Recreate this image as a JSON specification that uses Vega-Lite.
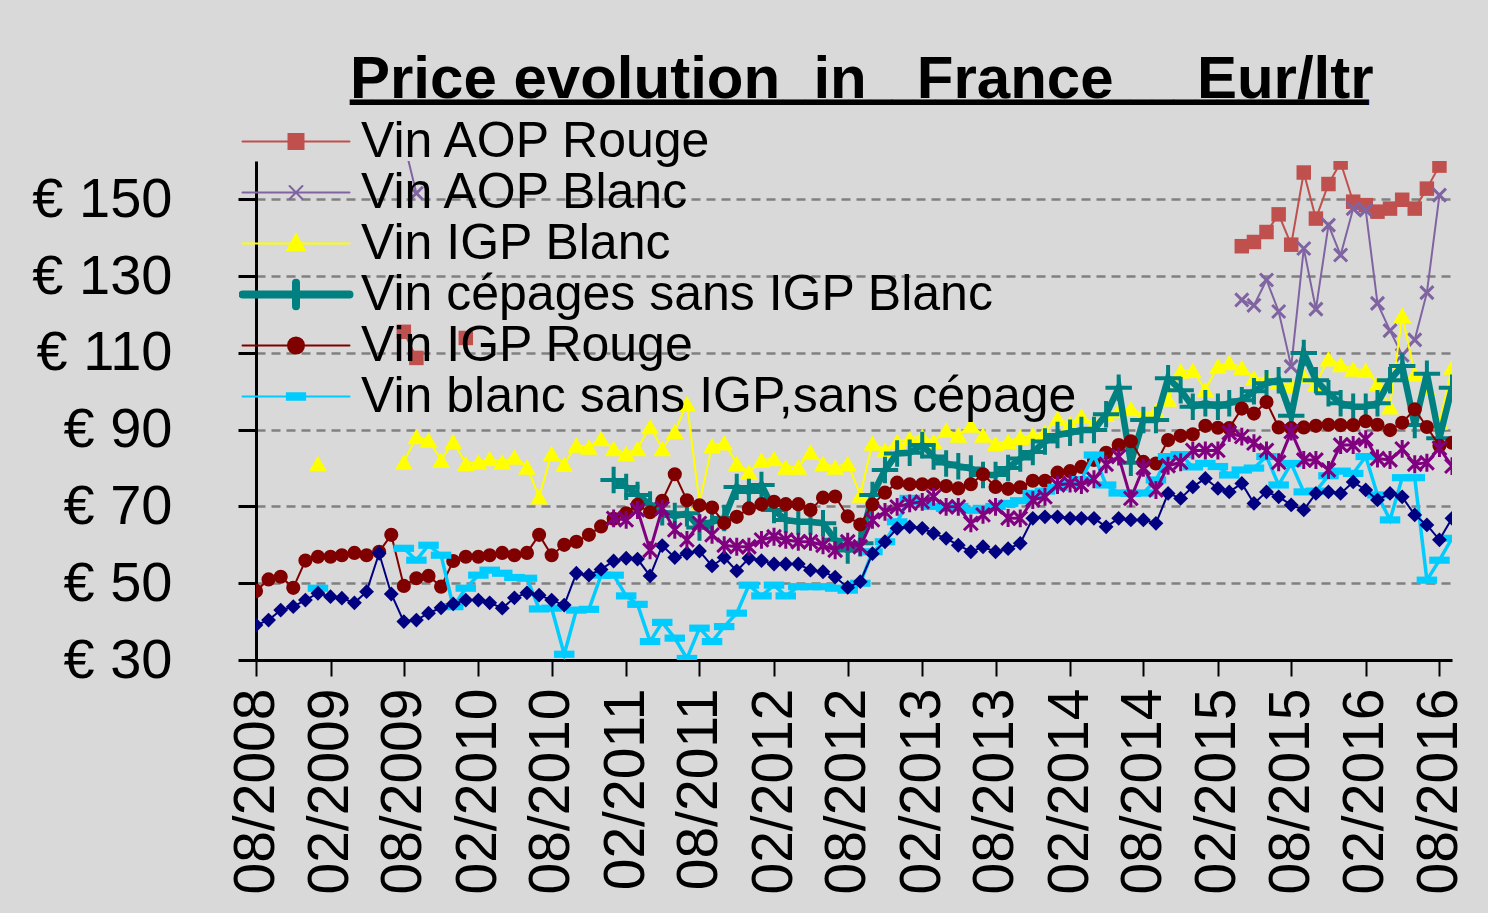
{
  "$schema": "https://vega.github.io/schema/vega-lite/v6.json",
  "width": 1196,
  "height": 499,
  "autosize": "none",
  "padding": {"left": 256, "top": 161, "right": 36, "bottom": 253},
  "background": "#d9d9d9",
  "config": {"view": {"stroke": null}, "font": "Liberation Sans"},
  "title": {
    "text": "Price evolution\u00a0\u00a0in\u00a0\u00a0\u00a0France\u00a0\u00a0\u00a0\u00a0\u00a0Eur/ltr",
    "subtitle": "▁▁▁▁▁▁▁▁▁▁▁▁▁▁▁▁▁▁▁▁▁▁▁▁▁▁▁▁▁▁▁▁▁▁▁▁▁▁▁▁▁▁▁▁▁▁▁",
    "anchor": "start",
    "frame": "group",
    "dx": 94,
    "offset": 5,
    "font": "Liberation Sans",
    "fontSize": 60,
    "fontWeight": "bold",
    "color": "black",
    "subtitleFont": "DejaVu Sans Mono",
    "subtitleFontSize": 36,
    "subtitleFontWeight": "normal",
    "subtitleColor": "black",
    "subtitlePadding": -43
  },
  "data": {
    "format": {"parse": {"d": "utc:'%Y-%m'"}},
    "values": [
      {"s":"A","d":"2009-08","v":115.5},{"s":"A","d":"2009-09","v":108.7},{"s":"A","d":"2009-10","v":null},{"s":"A","d":"2010-01","v":113.9},{"s":"A","d":"2010-02","v":null},
      {"s":"A","d":"2015-04","v":137.8},{"s":"A","d":"2015-05","v":138.9},{"s":"A","d":"2015-06","v":141.5},{"s":"A","d":"2015-07","v":146.1},{"s":"A","d":"2015-08","v":138.2},{"s":"A","d":"2015-09","v":157},{"s":"A","d":"2015-10","v":145},{"s":"A","d":"2015-11","v":154},{"s":"A","d":"2015-12","v":159.6},
      {"s":"A","d":"2016-01","v":149.4},{"s":"A","d":"2016-02","v":148.5},{"s":"A","d":"2016-03","v":146.8},{"s":"A","d":"2016-04","v":147.6},{"s":"A","d":"2016-05","v":149.9},{"s":"A","d":"2016-06","v":147.6},{"s":"A","d":"2016-07","v":152.8},{"s":"A","d":"2016-08","v":158.8},

      {"s":"B","d":"2009-08","v":165},{"s":"B","d":"2009-09","v":151.6},{"s":"B","d":"2009-10","v":null},
      {"s":"B","d":"2015-04","v":123.8},{"s":"B","d":"2015-05","v":122.4},{"s":"B","d":"2015-06","v":129},{"s":"B","d":"2015-07","v":120.8},{"s":"B","d":"2015-08","v":106.5},{"s":"B","d":"2015-09","v":137.2},{"s":"B","d":"2015-10","v":121.4},{"s":"B","d":"2015-11","v":143.3},{"s":"B","d":"2015-12","v":135.5},
      {"s":"B","d":"2016-01","v":147.6},{"s":"B","d":"2016-02","v":147.2},{"s":"B","d":"2016-03","v":122.9},{"s":"B","d":"2016-04","v":115.8},{"s":"B","d":"2016-05","v":109.4},{"s":"B","d":"2016-06","v":113.4},{"s":"B","d":"2016-07","v":125.7},{"s":"B","d":"2016-08","v":151.1},

      {"s":"C","d":"2009-01","v":81.2},{"s":"C","d":"2009-02","v":null},
      {"s":"C","d":"2009-08","v":81.6},{"s":"C","d":"2009-09","v":88.2},{"s":"C","d":"2009-10","v":87.3},{"s":"C","d":"2009-11","v":82.1},{"s":"C","d":"2009-12","v":86.9},
      {"s":"C","d":"2010-01","v":81.2},{"s":"C","d":"2010-02","v":81.6},{"s":"C","d":"2010-03","v":82.5},{"s":"C","d":"2010-04","v":81.6},{"s":"C","d":"2010-05","v":82.9},{"s":"C","d":"2010-06","v":80.3},{"s":"C","d":"2010-07","v":72.5},{"s":"C","d":"2010-08","v":83.8},{"s":"C","d":"2010-09","v":81},{"s":"C","d":"2010-10","v":86},{"s":"C","d":"2010-11","v":85.5},{"s":"C","d":"2010-12","v":87.7},
      {"s":"C","d":"2011-01","v":85.1},{"s":"C","d":"2011-02","v":83.8},{"s":"C","d":"2011-03","v":85.1},{"s":"C","d":"2011-04","v":90.8},{"s":"C","d":"2011-05","v":85.1},{"s":"C","d":"2011-06","v":89.5},{"s":"C","d":"2011-07","v":96.8},{"s":"C","d":"2011-08","v":71},{"s":"C","d":"2011-09","v":85.8},{"s":"C","d":"2011-10","v":86.6},{"s":"C","d":"2011-11","v":81.2},{"s":"C","d":"2011-12","v":79},
      {"s":"C","d":"2012-01","v":82.1},{"s":"C","d":"2012-02","v":82.5},{"s":"C","d":"2012-03","v":80.3},{"s":"C","d":"2012-04","v":80.3},{"s":"C","d":"2012-05","v":84.2},{"s":"C","d":"2012-06","v":81.2},{"s":"C","d":"2012-07","v":80.3},{"s":"C","d":"2012-08","v":81.2},{"s":"C","d":"2012-09","v":73},{"s":"C","d":"2012-10","v":86.5},{"s":"C","d":"2012-11","v":84.7},{"s":"C","d":"2012-12","v":86.9},
      {"s":"C","d":"2013-01","v":87.7},{"s":"C","d":"2013-02","v":88.3},{"s":"C","d":"2013-03","v":86.9},{"s":"C","d":"2013-04","v":89.9},{"s":"C","d":"2013-05","v":88.6},{"s":"C","d":"2013-06","v":91.2},{"s":"C","d":"2013-07","v":88.6},{"s":"C","d":"2013-08","v":86.4},{"s":"C","d":"2013-09","v":87},{"s":"C","d":"2013-10","v":88},{"s":"C","d":"2013-11","v":88.6},{"s":"C","d":"2013-12","v":89.4},
      {"s":"C","d":"2014-01","v":93},{"s":"C","d":"2014-02","v":91.6},{"s":"C","d":"2014-03","v":93.6},{"s":"C","d":"2014-04","v":91.6},{"s":"C","d":"2014-05","v":94},{"s":"C","d":"2014-06","v":95},{"s":"C","d":"2014-07","v":95.5},{"s":"C","d":"2014-08","v":94},{"s":"C","d":"2014-09","v":95},{"s":"C","d":"2014-10","v":98},{"s":"C","d":"2014-11","v":105.3},{"s":"C","d":"2014-12","v":105.5},
      {"s":"C","d":"2015-01","v":100.4},{"s":"C","d":"2015-02","v":106.6},{"s":"C","d":"2015-03","v":107.5},{"s":"C","d":"2015-04","v":106.2},{"s":"C","d":"2015-05","v":103.5},{"s":"C","d":"2015-06","v":103.4},{"s":"C","d":"2015-07","v":102.5},{"s":"C","d":"2015-08","v":101.4},{"s":"C","d":"2015-09","v":104},{"s":"C","d":"2015-10","v":102},{"s":"C","d":"2015-11","v":108.5},{"s":"C","d":"2015-12","v":107},
      {"s":"C","d":"2016-01","v":105.8},{"s":"C","d":"2016-02","v":105.5},{"s":"C","d":"2016-03","v":102},{"s":"C","d":"2016-04","v":96},{"s":"C","d":"2016-05","v":119.8},{"s":"C","d":"2016-06","v":104.6},{"s":"C","d":"2016-07","v":101},{"s":"C","d":"2016-08","v":92},{"s":"C","d":"2016-09","v":106.3},

      {"s":"D","d":"2011-01","v":76.9},{"s":"D","d":"2011-02","v":75.1},{"s":"D","d":"2011-03","v":73},{"s":"D","d":"2011-04","v":70.5},{"s":"D","d":"2011-05","v":68.5},{"s":"D","d":"2011-06","v":67.5},{"s":"D","d":"2011-07","v":68.2},{"s":"D","d":"2011-08","v":64.5},{"s":"D","d":"2011-09","v":66},{"s":"D","d":"2011-10","v":67},{"s":"D","d":"2011-11","v":75.1},{"s":"D","d":"2011-12","v":73.8},
      {"s":"D","d":"2012-01","v":75.6},{"s":"D","d":"2012-02","v":69.1},{"s":"D","d":"2012-03","v":66.5},{"s":"D","d":"2012-04","v":66},{"s":"D","d":"2012-05","v":66},{"s":"D","d":"2012-06","v":65.6},{"s":"D","d":"2012-07","v":61.3},{"s":"D","d":"2012-08","v":58.5},{"s":"D","d":"2012-09","v":60.4},{"s":"D","d":"2012-10","v":73},{"s":"D","d":"2012-11","v":79.5},{"s":"D","d":"2012-12","v":83.8},
      {"s":"D","d":"2013-01","v":84},{"s":"D","d":"2013-02","v":86},{"s":"D","d":"2013-03","v":83},{"s":"D","d":"2013-04","v":81.2},{"s":"D","d":"2013-05","v":80.5},{"s":"D","d":"2013-06","v":79.9},{"s":"D","d":"2013-07","v":78.2},{"s":"D","d":"2013-08","v":78.2},{"s":"D","d":"2013-09","v":80},{"s":"D","d":"2013-10","v":82.5},{"s":"D","d":"2013-11","v":84.2},{"s":"D","d":"2013-12","v":86.9},
      {"s":"D","d":"2014-01","v":88.6},{"s":"D","d":"2014-02","v":89.2},{"s":"D","d":"2014-03","v":89.9},{"s":"D","d":"2014-04","v":89.9},{"s":"D","d":"2014-05","v":94},{"s":"D","d":"2014-06","v":100.9},{"s":"D","d":"2014-07","v":81.4},{"s":"D","d":"2014-08","v":92.5},{"s":"D","d":"2014-09","v":92.5},{"s":"D","d":"2014-10","v":103.4},{"s":"D","d":"2014-11","v":100.3},{"s":"D","d":"2014-12","v":96},
      {"s":"D","d":"2015-01","v":96.9},{"s":"D","d":"2015-02","v":96},{"s":"D","d":"2015-03","v":96.9},{"s":"D","d":"2015-04","v":97.7},{"s":"D","d":"2015-05","v":100},{"s":"D","d":"2015-06","v":102.1},{"s":"D","d":"2015-07","v":102.9},{"s":"D","d":"2015-08","v":93.6},{"s":"D","d":"2015-09","v":110},{"s":"D","d":"2015-10","v":102.9},{"s":"D","d":"2015-11","v":99.5},{"s":"D","d":"2015-12","v":96.9},
      {"s":"D","d":"2016-01","v":96},{"s":"D","d":"2016-02","v":96},{"s":"D","d":"2016-03","v":96.9},{"s":"D","d":"2016-04","v":102.9},{"s":"D","d":"2016-05","v":106.6},{"s":"D","d":"2016-06","v":91.2},{"s":"D","d":"2016-07","v":104.6},{"s":"D","d":"2016-08","v":87.8},{"s":"D","d":"2016-09","v":100.9},

      {"s":"E","d":"2008-08","v":48},{"s":"E","d":"2008-09","v":51},{"s":"E","d":"2008-10","v":51.7},{"s":"E","d":"2008-11","v":48.8},{"s":"E","d":"2008-12","v":55.9},
      {"s":"E","d":"2009-01","v":56.9},{"s":"E","d":"2009-02","v":56.9},{"s":"E","d":"2009-03","v":57.3},{"s":"E","d":"2009-04","v":57.9},{"s":"E","d":"2009-05","v":57.3},{"s":"E","d":"2009-06","v":58.2},{"s":"E","d":"2009-07","v":62.6},{"s":"E","d":"2009-08","v":49.3},{"s":"E","d":"2009-09","v":51.3},{"s":"E","d":"2009-10","v":51.9},{"s":"E","d":"2009-11","v":49.1},{"s":"E","d":"2009-12","v":55.8},
      {"s":"E","d":"2010-01","v":56.9},{"s":"E","d":"2010-02","v":56.9},{"s":"E","d":"2010-03","v":57.3},{"s":"E","d":"2010-04","v":57.9},{"s":"E","d":"2010-05","v":57.3},{"s":"E","d":"2010-06","v":57.9},{"s":"E","d":"2010-07","v":62.6},{"s":"E","d":"2010-08","v":57.3},{"s":"E","d":"2010-09","v":60},{"s":"E","d":"2010-10","v":60.8},{"s":"E","d":"2010-11","v":62.6},{"s":"E","d":"2010-12","v":64.8},
      {"s":"E","d":"2011-01","v":66.8},{"s":"E","d":"2011-02","v":68.2},{"s":"E","d":"2011-03","v":70.4},{"s":"E","d":"2011-04","v":68.5},{"s":"E","d":"2011-05","v":71.5},{"s":"E","d":"2011-06","v":78.4},{"s":"E","d":"2011-07","v":71.6},{"s":"E","d":"2011-08","v":70.3},{"s":"E","d":"2011-09","v":69.7},{"s":"E","d":"2011-10","v":65.7},{"s":"E","d":"2011-11","v":67.3},{"s":"E","d":"2011-12","v":69.5},
      {"s":"E","d":"2012-01","v":70.6},{"s":"E","d":"2012-02","v":71.2},{"s":"E","d":"2012-03","v":70.6},{"s":"E","d":"2012-04","v":70.6},{"s":"E","d":"2012-05","v":69.1},{"s":"E","d":"2012-06","v":72.3},{"s":"E","d":"2012-07","v":72.6},{"s":"E","d":"2012-08","v":67.4},{"s":"E","d":"2012-09","v":65.3},{"s":"E","d":"2012-10","v":70.5},{"s":"E","d":"2012-11","v":73.6},{"s":"E","d":"2012-12","v":76.2},
      {"s":"E","d":"2013-01","v":75.8},{"s":"E","d":"2013-02","v":75.8},{"s":"E","d":"2013-03","v":75.8},{"s":"E","d":"2013-04","v":75.3},{"s":"E","d":"2013-05","v":74.7},{"s":"E","d":"2013-06","v":75.8},{"s":"E","d":"2013-07","v":78.4},{"s":"E","d":"2013-08","v":75.1},{"s":"E","d":"2013-09","v":74.6},{"s":"E","d":"2013-10","v":75},{"s":"E","d":"2013-11","v":76.7},{"s":"E","d":"2013-12","v":76.7},
      {"s":"E","d":"2014-01","v":78.8},{"s":"E","d":"2014-02","v":79.2},{"s":"E","d":"2014-03","v":80.3},{"s":"E","d":"2014-04","v":82.1},{"s":"E","d":"2014-05","v":84},{"s":"E","d":"2014-06","v":86},{"s":"E","d":"2014-07","v":87},{"s":"E","d":"2014-08","v":81.6},{"s":"E","d":"2014-09","v":81.2},{"s":"E","d":"2014-10","v":87.3},{"s":"E","d":"2014-11","v":88.4},{"s":"E","d":"2014-12","v":88.8},
      {"s":"E","d":"2015-01","v":91},{"s":"E","d":"2015-02","v":90.5},{"s":"E","d":"2015-03","v":90.4},{"s":"E","d":"2015-04","v":95.5},{"s":"E","d":"2015-05","v":94.2},{"s":"E","d":"2015-06","v":97.2},{"s":"E","d":"2015-07","v":90.6},{"s":"E","d":"2015-08","v":90.4},{"s":"E","d":"2015-09","v":90.6},{"s":"E","d":"2015-10","v":91},{"s":"E","d":"2015-11","v":91.3},{"s":"E","d":"2015-12","v":91.2},
      {"s":"E","d":"2016-01","v":91.2},{"s":"E","d":"2016-02","v":92.2},{"s":"E","d":"2016-03","v":91.3},{"s":"E","d":"2016-04","v":89.9},{"s":"E","d":"2016-05","v":91.8},{"s":"E","d":"2016-06","v":95.3},{"s":"E","d":"2016-07","v":90.7},{"s":"E","d":"2016-08","v":85.8},{"s":"E","d":"2016-09","v":86.6},

      {"s":"F","d":"2009-01","v":48.7},{"s":"F","d":"2009-02","v":null},
      {"s":"F","d":"2009-08","v":59.1},{"s":"F","d":"2009-09","v":56},{"s":"F","d":"2009-10","v":59.9},{"s":"F","d":"2009-11","v":57.3},{"s":"F","d":"2009-12","v":43.9},
      {"s":"F","d":"2010-01","v":48.7},{"s":"F","d":"2010-02","v":52.1},{"s":"F","d":"2010-03","v":53.4},{"s":"F","d":"2010-04","v":52.6},{"s":"F","d":"2010-05","v":51.5},{"s":"F","d":"2010-06","v":51.3},{"s":"F","d":"2010-07","v":43.3},{"s":"F","d":"2010-08","v":43.5},{"s":"F","d":"2010-09","v":31.5},{"s":"F","d":"2010-10","v":43},{"s":"F","d":"2010-11","v":43.2},{"s":"F","d":"2010-12","v":52.1},
      {"s":"F","d":"2011-01","v":52.1},{"s":"F","d":"2011-02","v":46.7},{"s":"F","d":"2011-03","v":44.5},{"s":"F","d":"2011-04","v":34.8},{"s":"F","d":"2011-05","v":39.8},{"s":"F","d":"2011-06","v":35.7},{"s":"F","d":"2011-07","v":30.4},{"s":"F","d":"2011-08","v":38.3},{"s":"F","d":"2011-09","v":34.8},{"s":"F","d":"2011-10","v":38.7},{"s":"F","d":"2011-11","v":42.2},{"s":"F","d":"2011-12","v":49.5},
      {"s":"F","d":"2012-01","v":46.7},{"s":"F","d":"2012-02","v":49.5},{"s":"F","d":"2012-03","v":46.7},{"s":"F","d":"2012-04","v":49.1},{"s":"F","d":"2012-05","v":49.1},{"s":"F","d":"2012-06","v":49.1},{"s":"F","d":"2012-07","v":48.7},{"s":"F","d":"2012-08","v":48.2},{"s":"F","d":"2012-09","v":50},{"s":"F","d":"2012-10","v":58.2},{"s":"F","d":"2012-11","v":60.8},{"s":"F","d":"2012-12","v":66},
      {"s":"F","d":"2013-01","v":72.1},{"s":"F","d":"2013-02","v":71.2},{"s":"F","d":"2013-03","v":70},{"s":"F","d":"2013-04","v":69.5},{"s":"F","d":"2013-05","v":70},{"s":"F","d":"2013-06","v":69},{"s":"F","d":"2013-07","v":69.5},{"s":"F","d":"2013-08","v":70},{"s":"F","d":"2013-09","v":70.8},{"s":"F","d":"2013-10","v":71.5},{"s":"F","d":"2013-11","v":73.4},{"s":"F","d":"2013-12","v":74},
      {"s":"F","d":"2014-01","v":75},{"s":"F","d":"2014-02","v":76},{"s":"F","d":"2014-03","v":77},{"s":"F","d":"2014-04","v":83.4},{"s":"F","d":"2014-05","v":75.6},{"s":"F","d":"2014-06","v":73.5},{"s":"F","d":"2014-07","v":73.4},{"s":"F","d":"2014-08","v":73.5},{"s":"F","d":"2014-09","v":76.9},{"s":"F","d":"2014-10","v":83},{"s":"F","d":"2014-11","v":83.5},{"s":"F","d":"2014-12","v":80.3},
      {"s":"F","d":"2015-01","v":81.2},{"s":"F","d":"2015-02","v":80.4},{"s":"F","d":"2015-03","v":78.2},{"s":"F","d":"2015-04","v":79.5},{"s":"F","d":"2015-05","v":80},{"s":"F","d":"2015-06","v":83},{"s":"F","d":"2015-07","v":75.6},{"s":"F","d":"2015-08","v":81.2},{"s":"F","d":"2015-09","v":73.8},{"s":"F","d":"2015-10","v":74},{"s":"F","d":"2015-11","v":78},{"s":"F","d":"2015-12","v":79.2},
      {"s":"F","d":"2016-01","v":78.6},{"s":"F","d":"2016-02","v":83},{"s":"F","d":"2016-03","v":73},{"s":"F","d":"2016-04","v":66.5},{"s":"F","d":"2016-05","v":77.5},{"s":"F","d":"2016-06","v":77.5},{"s":"F","d":"2016-07","v":50.8},{"s":"F","d":"2016-08","v":56},{"s":"F","d":"2016-09","v":61.7},

      {"s":"G","d":"2008-08","v":39.1},{"s":"G","d":"2008-09","v":40.4},{"s":"G","d":"2008-10","v":43},{"s":"G","d":"2008-11","v":43.9},{"s":"G","d":"2008-12","v":45.6},
      {"s":"G","d":"2009-01","v":47.4},{"s":"G","d":"2009-02","v":46.5},{"s":"G","d":"2009-03","v":46.1},{"s":"G","d":"2009-04","v":44.9},{"s":"G","d":"2009-05","v":47.8},{"s":"G","d":"2009-06","v":57.8},{"s":"G","d":"2009-07","v":47.2},{"s":"G","d":"2009-08","v":40},{"s":"G","d":"2009-09","v":40.4},{"s":"G","d":"2009-10","v":42.2},{"s":"G","d":"2009-11","v":43.6},{"s":"G","d":"2009-12","v":44.6},
      {"s":"G","d":"2010-01","v":45.6},{"s":"G","d":"2010-02","v":45.6},{"s":"G","d":"2010-03","v":44.9},{"s":"G","d":"2010-04","v":43.5},{"s":"G","d":"2010-05","v":46.2},{"s":"G","d":"2010-06","v":47.5},{"s":"G","d":"2010-07","v":46.9},{"s":"G","d":"2010-08","v":45.6},{"s":"G","d":"2010-09","v":44.3},{"s":"G","d":"2010-10","v":52.6},{"s":"G","d":"2010-11","v":52.1},{"s":"G","d":"2010-12","v":53.6},
      {"s":"G","d":"2011-01","v":55.8},{"s":"G","d":"2011-02","v":56.5},{"s":"G","d":"2011-03","v":56.3},{"s":"G","d":"2011-04","v":51.9},{"s":"G","d":"2011-05","v":59.8},{"s":"G","d":"2011-06","v":56.7},{"s":"G","d":"2011-07","v":57.8},{"s":"G","d":"2011-08","v":58.4},{"s":"G","d":"2011-09","v":54.5},{"s":"G","d":"2011-10","v":56.7},{"s":"G","d":"2011-11","v":53.2},{"s":"G","d":"2011-12","v":56.5},
      {"s":"G","d":"2012-01","v":55.9},{"s":"G","d":"2012-02","v":55},{"s":"G","d":"2012-03","v":55},{"s":"G","d":"2012-04","v":55},{"s":"G","d":"2012-05","v":53.4},{"s":"G","d":"2012-06","v":53},{"s":"G","d":"2012-07","v":51.6},{"s":"G","d":"2012-08","v":48.9},{"s":"G","d":"2012-09","v":50.4},{"s":"G","d":"2012-10","v":57.7},{"s":"G","d":"2012-11","v":60.8},{"s":"G","d":"2012-12","v":64.3},
      {"s":"G","d":"2013-01","v":64.7},{"s":"G","d":"2013-02","v":64.3},{"s":"G","d":"2013-03","v":63},{"s":"G","d":"2013-04","v":61.7},{"s":"G","d":"2013-05","v":59.9},{"s":"G","d":"2013-06","v":58.2},{"s":"G","d":"2013-07","v":59.5},{"s":"G","d":"2013-08","v":58.2},{"s":"G","d":"2013-09","v":59},{"s":"G","d":"2013-10","v":60.4},{"s":"G","d":"2013-11","v":66.9},{"s":"G","d":"2013-12","v":67.3},
      {"s":"G","d":"2014-01","v":67.3},{"s":"G","d":"2014-02","v":66.9},{"s":"G","d":"2014-03","v":66.9},{"s":"G","d":"2014-04","v":66.9},{"s":"G","d":"2014-05","v":64.7},{"s":"G","d":"2014-06","v":66.9},{"s":"G","d":"2014-07","v":66.5},{"s":"G","d":"2014-08","v":66.5},{"s":"G","d":"2014-09","v":65.6},{"s":"G","d":"2014-10","v":73.4},{"s":"G","d":"2014-11","v":72.1},{"s":"G","d":"2014-12","v":75.1},
      {"s":"G","d":"2015-01","v":77.3},{"s":"G","d":"2015-02","v":74.7},{"s":"G","d":"2015-03","v":73.8},{"s":"G","d":"2015-04","v":76},{"s":"G","d":"2015-05","v":70.8},{"s":"G","d":"2015-06","v":73.8},{"s":"G","d":"2015-07","v":72.5},{"s":"G","d":"2015-08","v":70.4},{"s":"G","d":"2015-09","v":69.1},{"s":"G","d":"2015-10","v":73.4},{"s":"G","d":"2015-11","v":73.8},{"s":"G","d":"2015-12","v":73.4},
      {"s":"G","d":"2016-01","v":76.4},{"s":"G","d":"2016-02","v":74.3},{"s":"G","d":"2016-03","v":71.7},{"s":"G","d":"2016-04","v":73.4},{"s":"G","d":"2016-05","v":72.5},{"s":"G","d":"2016-06","v":67.8},{"s":"G","d":"2016-07","v":65.2},{"s":"G","d":"2016-08","v":61.3},{"s":"G","d":"2016-09","v":66.9},

      {"s":"H","d":"2011-01","v":66.9},{"s":"H","d":"2011-02","v":66.5},{"s":"H","d":"2011-03","v":69.1},{"s":"H","d":"2011-04","v":58.6},{"s":"H","d":"2011-05","v":69.5},{"s":"H","d":"2011-06","v":63.9},{"s":"H","d":"2011-07","v":61.3},{"s":"H","d":"2011-08","v":65.6},{"s":"H","d":"2011-09","v":62.6},{"s":"H","d":"2011-10","v":59.9},{"s":"H","d":"2011-11","v":59.5},{"s":"H","d":"2011-12","v":59.5},
      {"s":"H","d":"2012-01","v":61.3},{"s":"H","d":"2012-02","v":62.1},{"s":"H","d":"2012-03","v":61.3},{"s":"H","d":"2012-04","v":60.8},{"s":"H","d":"2012-05","v":60.8},{"s":"H","d":"2012-06","v":59.9},{"s":"H","d":"2012-07","v":58.6},{"s":"H","d":"2012-08","v":60.8},{"s":"H","d":"2012-09","v":59.5},{"s":"H","d":"2012-10","v":66.5},{"s":"H","d":"2012-11","v":68.6},{"s":"H","d":"2012-12","v":69.9},
      {"s":"H","d":"2013-01","v":70.8},{"s":"H","d":"2013-02","v":71.2},{"s":"H","d":"2013-03","v":72.5},{"s":"H","d":"2013-04","v":69.9},{"s":"H","d":"2013-05","v":69.9},{"s":"H","d":"2013-06","v":65.6},{"s":"H","d":"2013-07","v":67.8},{"s":"H","d":"2013-08","v":69.9},{"s":"H","d":"2013-09","v":67},{"s":"H","d":"2013-10","v":66.9},{"s":"H","d":"2013-11","v":71.7},{"s":"H","d":"2013-12","v":72.5},
      {"s":"H","d":"2014-01","v":75.6},{"s":"H","d":"2014-02","v":76},{"s":"H","d":"2014-03","v":75.6},{"s":"H","d":"2014-04","v":77.1},{"s":"H","d":"2014-05","v":81},{"s":"H","d":"2014-06","v":83},{"s":"H","d":"2014-07","v":72.1},{"s":"H","d":"2014-08","v":80.1},{"s":"H","d":"2014-09","v":74.3},{"s":"H","d":"2014-10","v":80.6},{"s":"H","d":"2014-11","v":81.5},{"s":"H","d":"2014-12","v":84.6},
      {"s":"H","d":"2015-01","v":84.6},{"s":"H","d":"2015-02","v":84.6},{"s":"H","d":"2015-03","v":89.2},{"s":"H","d":"2015-04","v":88.2},{"s":"H","d":"2015-05","v":86.5},{"s":"H","d":"2015-06","v":84.6},{"s":"H","d":"2015-07","v":81.5},{"s":"H","d":"2015-08","v":89.5},{"s":"H","d":"2015-09","v":82.1},{"s":"H","d":"2015-10","v":82.1},{"s":"H","d":"2015-11","v":79.5},{"s":"H","d":"2015-12","v":86},
      {"s":"H","d":"2016-01","v":86},{"s":"H","d":"2016-02","v":87.5},{"s":"H","d":"2016-03","v":82.5},{"s":"H","d":"2016-04","v":82.1},{"s":"H","d":"2016-05","v":85},{"s":"H","d":"2016-06","v":81},{"s":"H","d":"2016-07","v":81.4},{"s":"H","d":"2016-08","v":85.2},{"s":"H","d":"2016-09","v":80.5}
    ]
  },
  "encoding": {
    "x": {
      "field": "d",
      "type": "temporal",
      "scale": {
        "type": "utc",
        "domain": [{"year": 2008, "month": 8, "date": 1, "utc": true}, {"year": 2016, "month": 9, "date": 1, "utc": true}]
      },
      "axis": {
        "title": null,
        "values": [
          {"year": 2008, "month": 8, "date": 1, "utc": true},
          {"year": 2009, "month": 2, "date": 1, "utc": true},
          {"year": 2009, "month": 8, "date": 1, "utc": true},
          {"year": 2010, "month": 2, "date": 1, "utc": true},
          {"year": 2010, "month": 8, "date": 1, "utc": true},
          {"year": 2011, "month": 2, "date": 1, "utc": true},
          {"year": 2011, "month": 8, "date": 1, "utc": true},
          {"year": 2012, "month": 2, "date": 1, "utc": true},
          {"year": 2012, "month": 8, "date": 1, "utc": true},
          {"year": 2013, "month": 2, "date": 1, "utc": true},
          {"year": 2013, "month": 8, "date": 1, "utc": true},
          {"year": 2014, "month": 2, "date": 1, "utc": true},
          {"year": 2014, "month": 8, "date": 1, "utc": true},
          {"year": 2015, "month": 2, "date": 1, "utc": true},
          {"year": 2015, "month": 8, "date": 1, "utc": true},
          {"year": 2016, "month": 2, "date": 1, "utc": true},
          {"year": 2016, "month": 8, "date": 1, "utc": true}
        ],
        "format": "%m/%Y",
        "labelAngle": -90,
        "labelFont": "Liberation Sans",
        "labelFontSize": 57,
        "labelColor": "black",
        "labelPadding": 12,
        "labelLimit": 1000,
        "labelOverlap": false,
        "labelFlush": false,
        "labelBound": false,
        "grid": false,
        "tickSize": 16,
        "tickWidth": 2,
        "tickColor": "black",
        "domainColor": "black",
        "domainWidth": 3
      }
    },
    "y": {
      "field": "v",
      "type": "quantitative",
      "scale": {"domain": [30, 160], "nice": false, "zero": false},
      "axis": {
        "title": null,
        "values": [30, 50, 70, 90, 110, 130, 150],
        "labelExpr": "'€ ' + datum.value",
        "labelFont": "Liberation Sans",
        "labelFontSize": 56,
        "labelColor": "black",
        "labelPadding": 66,
        "labelFlush": false,
        "labelOverlap": false,
        "tickSize": 18,
        "tickWidth": 3,
        "tickColor": "black",
        "domainColor": "black",
        "domainWidth": 3,
        "grid": true,
        "gridColor": "#808080",
        "gridDash": [9, 6],
        "gridWidth": 2.5
      }
    },
    "color": {
      "field": "s",
      "type": "nominal",
      "scale": {
        "domain": ["A", "B", "C", "D", "E", "F", "G", "H"],
        "range": ["#C0504D", "#8064A2", "#FFFF00", "#008080", "#800000", "#00CCFF", "#000080", "#800080"]
      },
      "legend": {
        "orient": "none",
        "legendX": -17,
        "legendY": -45,
        "direction": "vertical",
        "title": null,
        "padding": 0,
        "values": ["A", "B", "C", "D", "E", "F"],
        "labelExpr": "['Vin AOP Rouge','Vin AOP Blanc','Vin IGP Blanc','Vin cépages sans IGP Blanc','Vin IGP Rouge','Vin blanc sans IGP,sans cépage'][indexof(['A','B','C','D','E','F'], datum.value)]",
        "labelFont": "Liberation Sans",
        "labelFontSize": 50,
        "labelColor": "black",
        "labelLimit": 2000,
        "labelOffset": 40,
        "symbolSize": 11449,
        "symbolStrokeWidth": 2,
        "symbolOffset": 32,
        "clipHeight": 51,
        "rowPadding": 0,
        "encode": {
          "symbols": {
            "update": {
              "shape": {"signal": "['M-1,0H1M-0.14,-0.14H0.14V0.14H-0.14Z','M-1,0H1M-0.12,-0.12L0.12,0.12M-0.12,0.12L0.12,-0.12','M-1,0H1M0,-0.17L0.16,0.12L-0.16,0.12Z','M-1,0H1M0,-0.22V0.22','M-1,0H1M0.15,0A0.15,0.15,0,1,1,-0.15,0A0.15,0.15,0,1,1,0.15,0Z','M-1,0H1M-0.17,-0.06H0.17V0.06H-0.17Z'][indexof(['A','B','C','D','E','F'], datum.value)]"},
              "fill": {"signal": "scale('color', datum.value)"},
              "stroke": {"signal": "scale('color', datum.value)"},
              "strokeWidth": {"signal": "datum.value == 'D' ? 8 : 2"},
              "strokeCap": {"value": "round"},
              "opacity": {"value": 1}
            }
          }
        }
      }
    }
  },
  "layer": [
    {"transform": [{"filter": "datum.s == 'A'"}], "mark": {"type": "line", "clip": true, "strokeWidth": 2, "invalid": "break-paths-filter-domains"}},
    {"transform": [{"filter": "datum.s == 'A'"}], "mark": {"type": "point", "clip": true, "shape": "square", "size": 210, "filled": true, "opacity": 1, "strokeWidth": 0}},
    {"transform": [{"filter": "datum.s == 'B'"}], "mark": {"type": "line", "clip": true, "strokeWidth": 2, "invalid": "break-paths-filter-domains"}},
    {"transform": [{"filter": "datum.s == 'B'"}], "mark": {"type": "point", "clip": true, "shape": "M-1,-1L1,1M-1,1L1,-1", "size": 170, "filled": false, "opacity": 1, "strokeWidth": 3}},
    {"transform": [{"filter": "datum.s == 'C'"}], "mark": {"type": "line", "clip": true, "strokeWidth": 2, "invalid": "break-paths-filter-domains"}},
    {"transform": [{"filter": "datum.s == 'C'"}], "mark": {"type": "point", "clip": true, "shape": "triangle-up", "size": 320, "filled": true, "opacity": 1, "strokeWidth": 0}},
    {"transform": [{"filter": "datum.s == 'D'"}], "mark": {"type": "line", "clip": true, "strokeWidth": 6.5, "invalid": "break-paths-filter-domains"}},
    {"transform": [{"filter": "datum.s == 'D'"}], "mark": {"type": "point", "clip": true, "shape": "M-1,0H1M0,-1V1", "size": 700, "filled": false, "opacity": 1, "strokeWidth": 4}},
    {"transform": [{"filter": "datum.s == 'E'"}], "mark": {"type": "line", "clip": true, "strokeWidth": 2, "invalid": "break-paths-filter-domains"}},
    {"transform": [{"filter": "datum.s == 'E'"}], "mark": {"type": "point", "clip": true, "shape": "circle", "size": 200, "filled": true, "opacity": 1, "strokeWidth": 0}},
    {"transform": [{"filter": "datum.s == 'F'"}], "mark": {"type": "line", "clip": true, "strokeWidth": 3.5, "invalid": "break-paths-filter-domains"}},
    {"transform": [{"filter": "datum.s == 'F'"}], "mark": {"type": "point", "clip": true, "shape": "M-1,-0.35H1V0.35H-1Z", "size": 420, "filled": true, "opacity": 1, "strokeWidth": 0}},
    {"transform": [{"filter": "datum.s == 'G'"}], "mark": {"type": "line", "clip": true, "strokeWidth": 2, "invalid": "break-paths-filter-domains"}},
    {"transform": [{"filter": "datum.s == 'G'"}], "mark": {"type": "point", "clip": true, "shape": "diamond", "size": 220, "filled": true, "opacity": 1, "strokeWidth": 0}},
    {"transform": [{"filter": "datum.s == 'H'"}], "mark": {"type": "line", "clip": true, "strokeWidth": 3, "invalid": "break-paths-filter-domains"}},
    {"transform": [{"filter": "datum.s == 'H'"}], "mark": {"type": "point", "clip": true, "shape": "M-1,-1L1,1M-1,1L1,-1M0,-1.3V1.3", "size": 190, "filled": false, "opacity": 1, "strokeWidth": 3}}
  ]
}
